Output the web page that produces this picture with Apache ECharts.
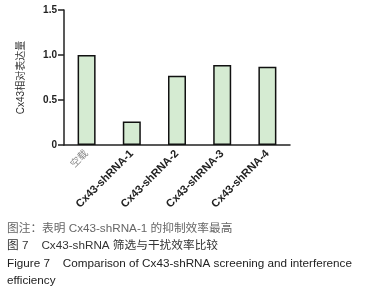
<!DOCTYPE html>
<html lang="zh">
<head>
    <meta charset="UTF-8">
    <title>Cx43-shRNA</title>
    <style>
        html, body { margin: 0; padding: 0; background: #fff; }
        #main { width: 367px; height: 300px; }
    </style>
</head>
<body>
<div id="main"></div>
<script src="https://cdn.jsdelivr.net/npm/echarts@6/dist/echarts.min.js"></script>
<script type="text/javascript">
    // 数据
    var categories = ['空载', 'Cx43-shRNA-1', 'Cx43-shRNA-2', 'Cx43-shRNA-3', 'Cx43-shRNA-4'];
    var values = [1.0, 0.26, 0.77, 0.89, 0.87];
    var yTicks = [0, 0.5, 1.0, 1.5];
    var captions = [
        '图注：表明 Cx43-shRNA-1 的抑制效率最高',
        '图 7    Cx43-shRNA 筛选与干扰效率比较',
        'Figure 7    Comparison of Cx43-shRNA screening and interference',
        'efficiency'
    ];

    var myChart = echarts.init(document.getElementById('main'));
    var font = 'Liberation Sans, Arial, Noto Sans CJK SC, sans-serif';

    var option = {
        animation: false,
        grid: { left: 64, top: 10, width: 226, height: 135, containLabel: false },
        xAxis: {
            type: 'category',
            data: categories,
            axisLine: { lineStyle: { color: '#222', width: 1.5 } },
            axisTick: { alignWithLabel: true, length: 4, lineStyle: { color: '#222', width: 1.5 } },
            axisLabel: {
                rotate: 45,
                interval: 0,
                margin: 7,
                color: '#222',
                fontSize: 11,
                fontWeight: 'bold',
                fontFamily: font,
                formatter: function (v) {
                    return v === categories[0] ? '{light|' + v + '}' : v;
                },
                rich: {
                    light: { color: '#888', fontSize: 10, fontWeight: 'normal', fontFamily: font }
                }
            }
        },
        yAxis: {
            type: 'value',
            min: yTicks[0],
            max: yTicks[yTicks.length - 1],
            interval: 0.5,
            name: 'Cx43相对表达量',
            nameLocation: 'middle',
            nameGap: 38,
            nameTextStyle: { color: '#333', fontSize: 10, fontFamily: font },
            splitLine: { show: false },
            axisLine: { show: true, lineStyle: { color: '#222', width: 1.5 } },
            axisTick: { show: true, length: 6, lineStyle: { color: '#222', width: 1.5 } },
            axisLabel: {
                margin: 7,
                color: '#222',
                fontSize: 10,
                fontWeight: 'bold',
                fontFamily: font,
                formatter: function (v) { return v === 0 ? '0' : v.toFixed(1); }
            }
        },
        series: [{
            type: 'bar',
            data: values,
            barWidth: 18,
            itemStyle: { color: '#d5ebd2', borderColor: '#111', borderWidth: 1.5 }
        }],
        graphic: captions.map(function (t, i) {
            var colors = ['#666', '#333', '#222', '#222'];
            return {
                type: 'text',
                left: 7,
                top: 223 + i * 17.3,
                style: { text: t, fill: colors[i], fontSize: 11.7, fontFamily: font }
            };
        })
    };
    myChart.setOption(option);
</script>
</body>
</html>
